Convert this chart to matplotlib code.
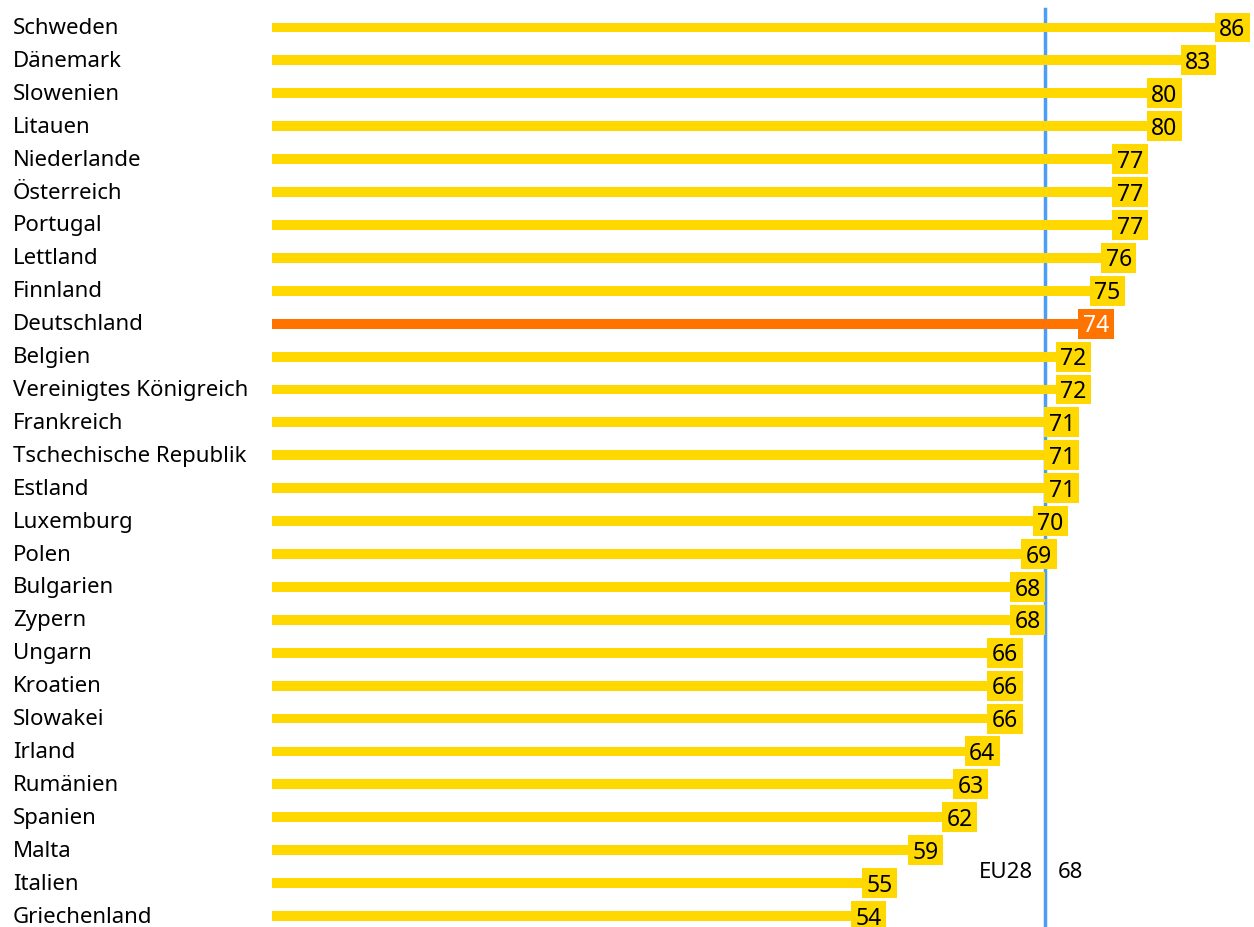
import matplotlib.pyplot as plt
from matplotlib.patches import Rectangle

countries = ["Schweden", "Dänemark", "Slowenien", "Litauen", "Niederlande",
             "Österreich", "Portugal", "Lettland", "Finnland", "Deutschland",
             "Belgien", "Vereinigtes Königreich", "Frankreich",
             "Tschechische Republik", "Estland", "Luxemburg", "Polen",
             "Bulgarien", "Zypern", "Ungarn", "Kroatien", "Slowakei", "Irland",
             "Rumänien", "Spanien", "Malta", "Italien", "Griechenland"]
values = [86, 83, 80, 80, 77, 77, 77, 76, 75, 74, 72, 72, 71, 71, 71, 70, 69,
          68, 68, 66, 66, 66, 64, 63, 62, 59, 55, 54]
eu_label = "EU28"
eu_value = 68
highlight = "Deutschland"

YELLOW = "#FFD800"
ORANGE = "#FF7300"
BLUE = "#4A9EF5"

plt.rcParams['font.family'] = ['Noto Sans', 'DejaVu Sans']

fig = plt.figure(figsize=(12.54, 9.28), dpi=100)
ax = fig.add_axes([272 / 1254, 0, (1250 - 272) / 1254, 1])
ax.set_xlim(0, 86)
n = len(countries)
ax.set_ylim(n - 1 + 11 / 32.93, -28.5 / 32.93)
ax.axis("off")

box_w = 3.1
for i, (name, v) in enumerate(zip(countries, values)):
    col = ORANGE if name == highlight else YELLOW
    # thin bar plus a square value box at its end
    ax.barh(i, v + 0.3, left=-0.3, height=0.3, color=col, zorder=2)
    ax.add_patch(Rectangle((v - box_w, i - 0.455), box_w, 0.91,
                           facecolor=col, edgecolor="none", zorder=3))
    ax.text(v - box_w / 2, i + 0.05, str(v), ha="center", va="center",
            fontsize=16.5, color="white" if name == highlight else "black",
            zorder=4)
    ax.text(-259 / 11.37, i, name, fontsize=16, ha="left", va="center",
            clip_on=False)

ax.plot([eu_value, eu_value], [-0.55, n], color=BLUE, lw=2.5, zorder=1,
        clip_on=False)
ax.text(eu_value - 1.1, 25.65, eu_label, ha="right", va="center", fontsize=16)
ax.text(eu_value + 1.1, 25.65, str(eu_value), ha="left", va="center",
        fontsize=16)

fig.savefig("out.png", dpi=100)
